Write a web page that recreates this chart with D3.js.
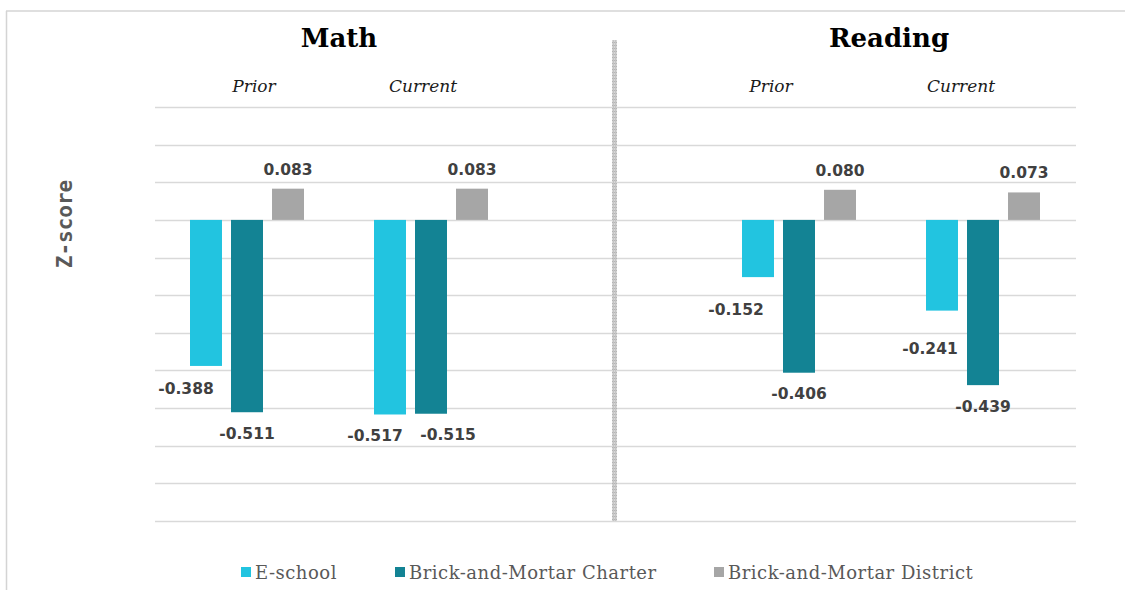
<!DOCTYPE html>
<html>
<head>
<meta charset="utf-8">
<script src="https://cdn.jsdelivr.net/npm/d3@7"></script>
<style>
  html, body { margin: 0; padding: 0; background: #fff; }
  svg { display: block; }
</style>
</head>
<body>
<div id="chart"></div>
<script>
// Subjects and time periods
const subjects = ["Math", "Reading"];
const periods = ["Prior", "Current"];
// School types (series) and their colours
const seriesNames = ["E-school", "Brick-and-Mortar Charter", "Brick-and-Mortar District"];
const seriesColors = ["#22c4e0", "#138394", "#a6a6a6"];
// Z-score values, one array per series, ordered Math Prior, Math Current, Reading Prior, Reading Current
const eSchool = [-0.388, -0.517, -0.152, -0.241];
const charter = [-0.511, -0.515, -0.406, -0.439];
const district = [0.083, 0.083, 0.080, 0.073];
// Gridline values
const gridTicks = [0.3, 0.2, 0.1, 0, -0.1, -0.2, -0.3, -0.4, -0.5, -0.6, -0.7, -0.8];

const W = 1125, H = 590;
const svg = d3.select("#chart").append("svg").attr("width", W).attr("height", H);

// Outer frame (top and left edges visible)
svg.append("line").attr("x1", 6).attr("x2", W).attr("y1", 11).attr("y2", 11)
  .attr("stroke", "#d4d4d4").attr("stroke-width", 1.5);
svg.append("line").attr("x1", 6.5).attr("x2", 6.5).attr("y1", 11).attr("y2", H)
  .attr("stroke", "#d4d4d4").attr("stroke-width", 1.5);

// Category slots: Math Prior, Math Current, spacer, Reading Prior, Reading Current
const slots = [];
subjects.forEach((s, i) => {
  periods.forEach(p => slots.push(s + "|" + p));
  if (i < subjects.length - 1) slots.push("gap");
});
const dataSlots = slots.filter(d => d !== "gap");

const x = d3.scaleBand().domain(slots).range([155, 1075]).padding(0);
const y = d3.scaleLinear().domain([-0.8, 0.3]).range([521, 107]);

const groupWidth = 114;
const xi = d3.scaleBand().domain(seriesNames).range([-groupWidth / 2, groupWidth / 2])
  .paddingInner(0.22).paddingOuter(0);

// Gridlines
svg.append("g").selectAll("line").data(gridTicks).join("line")
  .attr("x1", 155).attr("x2", 1076)
  .attr("y1", d => Math.round(y(d)) + 0.5).attr("y2", d => Math.round(y(d)) + 0.5)
  .attr("stroke", "#d9d9d9").attr("stroke-width", 1.5);

// Hatched divider between the two subjects
const defs = svg.append("defs");
const pat = defs.append("pattern").attr("id", "hatch").attr("patternUnits", "userSpaceOnUse")
  .attr("width", 2).attr("height", 3);
pat.append("rect").attr("width", 2).attr("height", 3).attr("fill", "#d6d6d6");
pat.append("rect").attr("width", 2).attr("height", 1).attr("fill", "#b4b4b4");
pat.append("rect").attr("x", 1).attr("width", 1).attr("height", 3).attr("fill", "#c4c4c4");
const gapCenter = x("gap") + x.bandwidth() / 2;
svg.append("rect").attr("x", gapCenter - 3).attr("y", 40).attr("width", 5).attr("height", 481)
  .attr("fill", "url(#hatch)");

// Bars
const seriesValues = [eSchool, charter, district];
const bars = [];
seriesValues.forEach((vals, si) => {
  vals.forEach((v, ci) => {
    bars.push({ series: seriesNames[si], si, ci, slot: dataSlots[ci], value: v });
  });
});

svg.append("g").selectAll("rect").data(bars).join("rect")
  .attr("x", d => x(d.slot) + x.bandwidth() / 2 + xi(d.series))
  .attr("width", xi.bandwidth())
  .attr("y", d => y(Math.max(0, d.value)))
  .attr("height", d => Math.abs(y(d.value) - y(0)))
  .attr("fill", d => seriesColors[d.si]);

// Value labels, nudged clear of neighbouring bars
const labelNudge = {
  "0-0": [-20, 1], "0-1": [-15, 0], "0-2": [-22, 11], "0-3": [-12, 16],
  "1-0": [0, 0], "1-1": [17, -1], "1-2": [0, -1], "1-3": [0, 0]
};
svg.append("g").selectAll("text").data(bars).join("text")
  .attr("x", d => x(d.slot) + x.bandwidth() / 2 + xi(d.series) + xi.bandwidth() / 2
    + (labelNudge[d.si + "-" + d.ci] || [0, 0])[0])
  .attr("y", d => (d.value < 0 ? y(d.value) + 27 : y(d.value) - 14)
    + (labelNudge[d.si + "-" + d.ci] || [0, 0])[1])
  .attr("text-anchor", "middle")
  .attr("font-family", "'DejaVu Sans', sans-serif")
  .attr("font-weight", "bold")
  .attr("font-size", 15.5)
  .attr("fill", "#404040")
  .text(d => d.value.toFixed(3));

// Subject titles
const subjectCenters = subjects.map(s => {
  const a = x(s + "|" + periods[0]) + x.bandwidth() / 2;
  const b = x(s + "|" + periods[periods.length - 1]) + x.bandwidth() / 2;
  return (a + b) / 2;
});
svg.append("g").selectAll("text").data(subjects).join("text")
  .attr("x", (d, i) => subjectCenters[i] + (i === 0 ? 0 : -2))
  .attr("y", 47)
  .attr("text-anchor", "middle")
  .attr("font-family", "'DejaVu Serif', serif")
  .attr("font-weight", "bold")
  .attr("font-size", 26)
  .attr("fill", "#000")
  .text(d => d);

// Period sub-headings
const periodNudge = [7, -8, -28, -22];
svg.append("g").selectAll("text").data(dataSlots).join("text")
  .attr("x", (d, i) => x(d) + x.bandwidth() / 2 + periodNudge[i])
  .attr("y", 92)
  .attr("text-anchor", "middle")
  .attr("font-family", "'DejaVu Serif', serif")
  .attr("font-style", "italic")
  .attr("font-size", 17)
  .attr("fill", "#1a1a1a")
  .text(d => d.split("|")[1]);

// Y-axis title
svg.append("text")
  .attr("transform", "translate(72,224) rotate(-90)")
  .attr("text-anchor", "middle")
  .attr("font-family", "'DejaVu Sans Mono', monospace")
  .attr("font-weight", "bold")
  .attr("font-size", 21)
  .attr("fill", "#595959")
  .text("Z-score");

// Legend
const legendX = [241, 395, 714];
const legend = svg.append("g").selectAll("g").data(seriesNames).join("g")
  .attr("transform", (d, i) => `translate(${legendX[i]},572)`);
legend.append("rect").attr("x", 0).attr("y", -5).attr("width", 10).attr("height", 10)
  .attr("fill", (d, i) => seriesColors[i]);
legend.append("text").attr("x", 14).attr("y", 6.5)
  .attr("font-family", "'DejaVu Serif', serif")
  .attr("font-size", 18)
  .attr("letter-spacing", 0.5)
  .attr("fill", "#595959")
  .text(d => d);
</script>
</body>
</html>
